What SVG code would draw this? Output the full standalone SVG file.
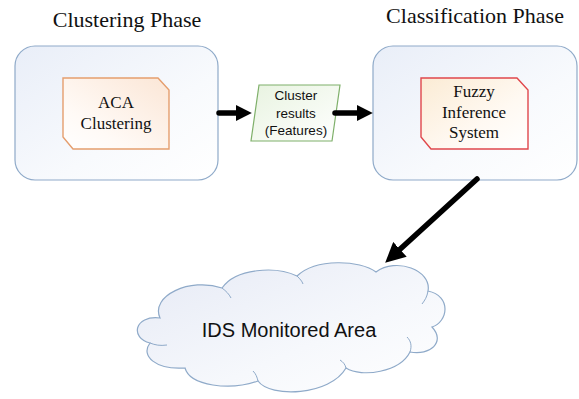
<svg xmlns="http://www.w3.org/2000/svg" width="579" height="399" viewBox="0 0 579 399">
<defs>
<linearGradient id="gCont" x1="0" y1="0" x2="1" y2="1">
<stop offset="0" stop-color="#E9EEF8"/>
<stop offset="0.6" stop-color="#F8FAFD"/>
<stop offset="1" stop-color="#FFFFFF"/>
</linearGradient>
<linearGradient id="gAca" x1="1" y1="0" x2="0" y2="1">
<stop offset="0" stop-color="#FBE6D6"/>
<stop offset="0.7" stop-color="#FFFAF6"/>
<stop offset="1" stop-color="#FFFFFF"/>
</linearGradient>
<linearGradient id="gFuz" x1="0" y1="0" x2="1" y2="1">
<stop offset="0" stop-color="#FBEBD4"/>
<stop offset="0.6" stop-color="#FFF9F2"/>
<stop offset="1" stop-color="#FFFFFF"/>
</linearGradient>
<linearGradient id="gPar" x1="0" y1="0" x2="1" y2="1">
<stop offset="0" stop-color="#E8F3E0"/>
<stop offset="1" stop-color="#FFFFFF"/>
</linearGradient>
<linearGradient id="gCloud" x1="0" y1="0" x2="1" y2="1">
<stop offset="0" stop-color="#E6EAF5"/>
<stop offset="0.6" stop-color="#F6F8FC"/>
<stop offset="1" stop-color="#FFFFFF"/>
</linearGradient>
<marker id="ah" viewBox="0 0 10 10" refX="2" refY="5" markerWidth="16" markerHeight="16" markerUnits="userSpaceOnUse" orient="auto">
<path d="M0,0 L10,5 L0,10 z" fill="#000"/>
</marker>
<marker id="ah2" viewBox="0 0 10 10" refX="2" refY="5" markerWidth="20" markerHeight="20" markerUnits="userSpaceOnUse" orient="auto">
<path d="M0,0 L10,5 L0,10 z" fill="#000"/>
</marker>
</defs>
<style>
.cont{fill:url(#gCont);stroke:#8FAAC9;stroke-width:1.2}
.title{font-family:"Liberation Serif",serif;font-size:22px;fill:#111;text-anchor:middle}
.lbl{font-family:"Liberation Serif",serif;font-size:17px;fill:#111;text-anchor:middle}
.sans{font-family:"Liberation Sans",Arial,sans-serif;fill:#111;text-anchor:middle}
.arrow{stroke:#000;stroke-width:5.5;fill:none;stroke-linecap:round}
</style>
<rect width="579" height="399" fill="#FFFFFF"/>

<g id="clustering-phase">
<text class="title" x="127" y="27">Clustering Phase</text>
<rect class="cont" x="15" y="46" width="203" height="134" rx="20" ry="20"/>
</g>
<g id="aca-clustering">
<path d="M63,78 H158 L169,90 V149 H73 L63,137 Z" fill="url(#gAca)" stroke="#E59E6E" stroke-width="1.4"/>
<text class="lbl" x="116" y="108">ACA</text>
<text class="lbl" x="116" y="129">Clustering</text>
</g>

<g id="cluster-results">
<path d="M259,85 H340 L332,141 H251 Z" fill="url(#gPar)" stroke="#7FB06A" stroke-width="1.2"/>
<text class="sans" x="296" y="100" font-size="13.5">Cluster</text>
<text class="sans" x="296" y="117.5" font-size="13.5">results</text>
<text class="sans" x="296" y="135" font-size="13.5">(Features)</text>
</g>

<g id="classification-phase">
<text class="title" x="475" y="23" font-size="23">Classification Phase</text>
<rect class="cont" x="373" y="46" width="204" height="134" rx="20" ry="20"/>
</g>
<g id="fuzzy-inference-system">
<path d="M421,78 H517 L528,90 V149 H431 L421,137 Z" fill="url(#gFuz)" stroke="#E0474C" stroke-width="1.4"/>
<text class="lbl" x="474" y="97">Fuzzy</text>
<text class="lbl" x="474" y="118">Inference</text>
<text class="lbl" x="474" y="138">System</text>
</g>

<g id="ids-monitored-area">
<path d="M160,318 C150,296 190,277 222,288 C236,268 276,266 297,276 C316,258 360,260 376,272 C396,257 432,270 428,291 C452,296 448,322 432,327 C446,342 430,356 410,352 C400,372 362,378 346,368 C330,396 270,398 258,381 C230,391 190,386 185,368 C156,370 140,356 150,343 C130,338 134,315 160,318 Z" fill="url(#gCloud)" stroke="#8FAAC9" stroke-width="1.2"/>
<path d="M222,288 C226,291 229,294 231,298" fill="none" stroke="#8FAAC9" stroke-width="1"/>
<path d="M297,276 C300,279 302,281 303,284" fill="none" stroke="#8FAAC9" stroke-width="1"/>
<path d="M428,291 C427,297 425,300 422,304" fill="none" stroke="#8FAAC9" stroke-width="1"/>
<path d="M410,352 C412,346 411,341 407,337" fill="none" stroke="#8FAAC9" stroke-width="1"/>
<path d="M346,368 C345,364 343,362 340,360" fill="none" stroke="#8FAAC9" stroke-width="1"/>
<path d="M258,381 C257,377 256,374 253,371" fill="none" stroke="#8FAAC9" stroke-width="1"/>
<path d="M150,343 C155,345 160,346 167,345" fill="none" stroke="#8FAAC9" stroke-width="1"/>
<text class="sans" x="289" y="337" font-size="20">IDS Monitored Area</text>
</g>

<g id="connectors">
<path class="arrow" d="M219,113 L239,113" marker-end="url(#ah)"/>
<path class="arrow" d="M335,113 L360,113" marker-end="url(#ah)"/>
<path class="arrow" d="M477,179 L397,252" marker-end="url(#ah2)"/>
</g>
</svg>
